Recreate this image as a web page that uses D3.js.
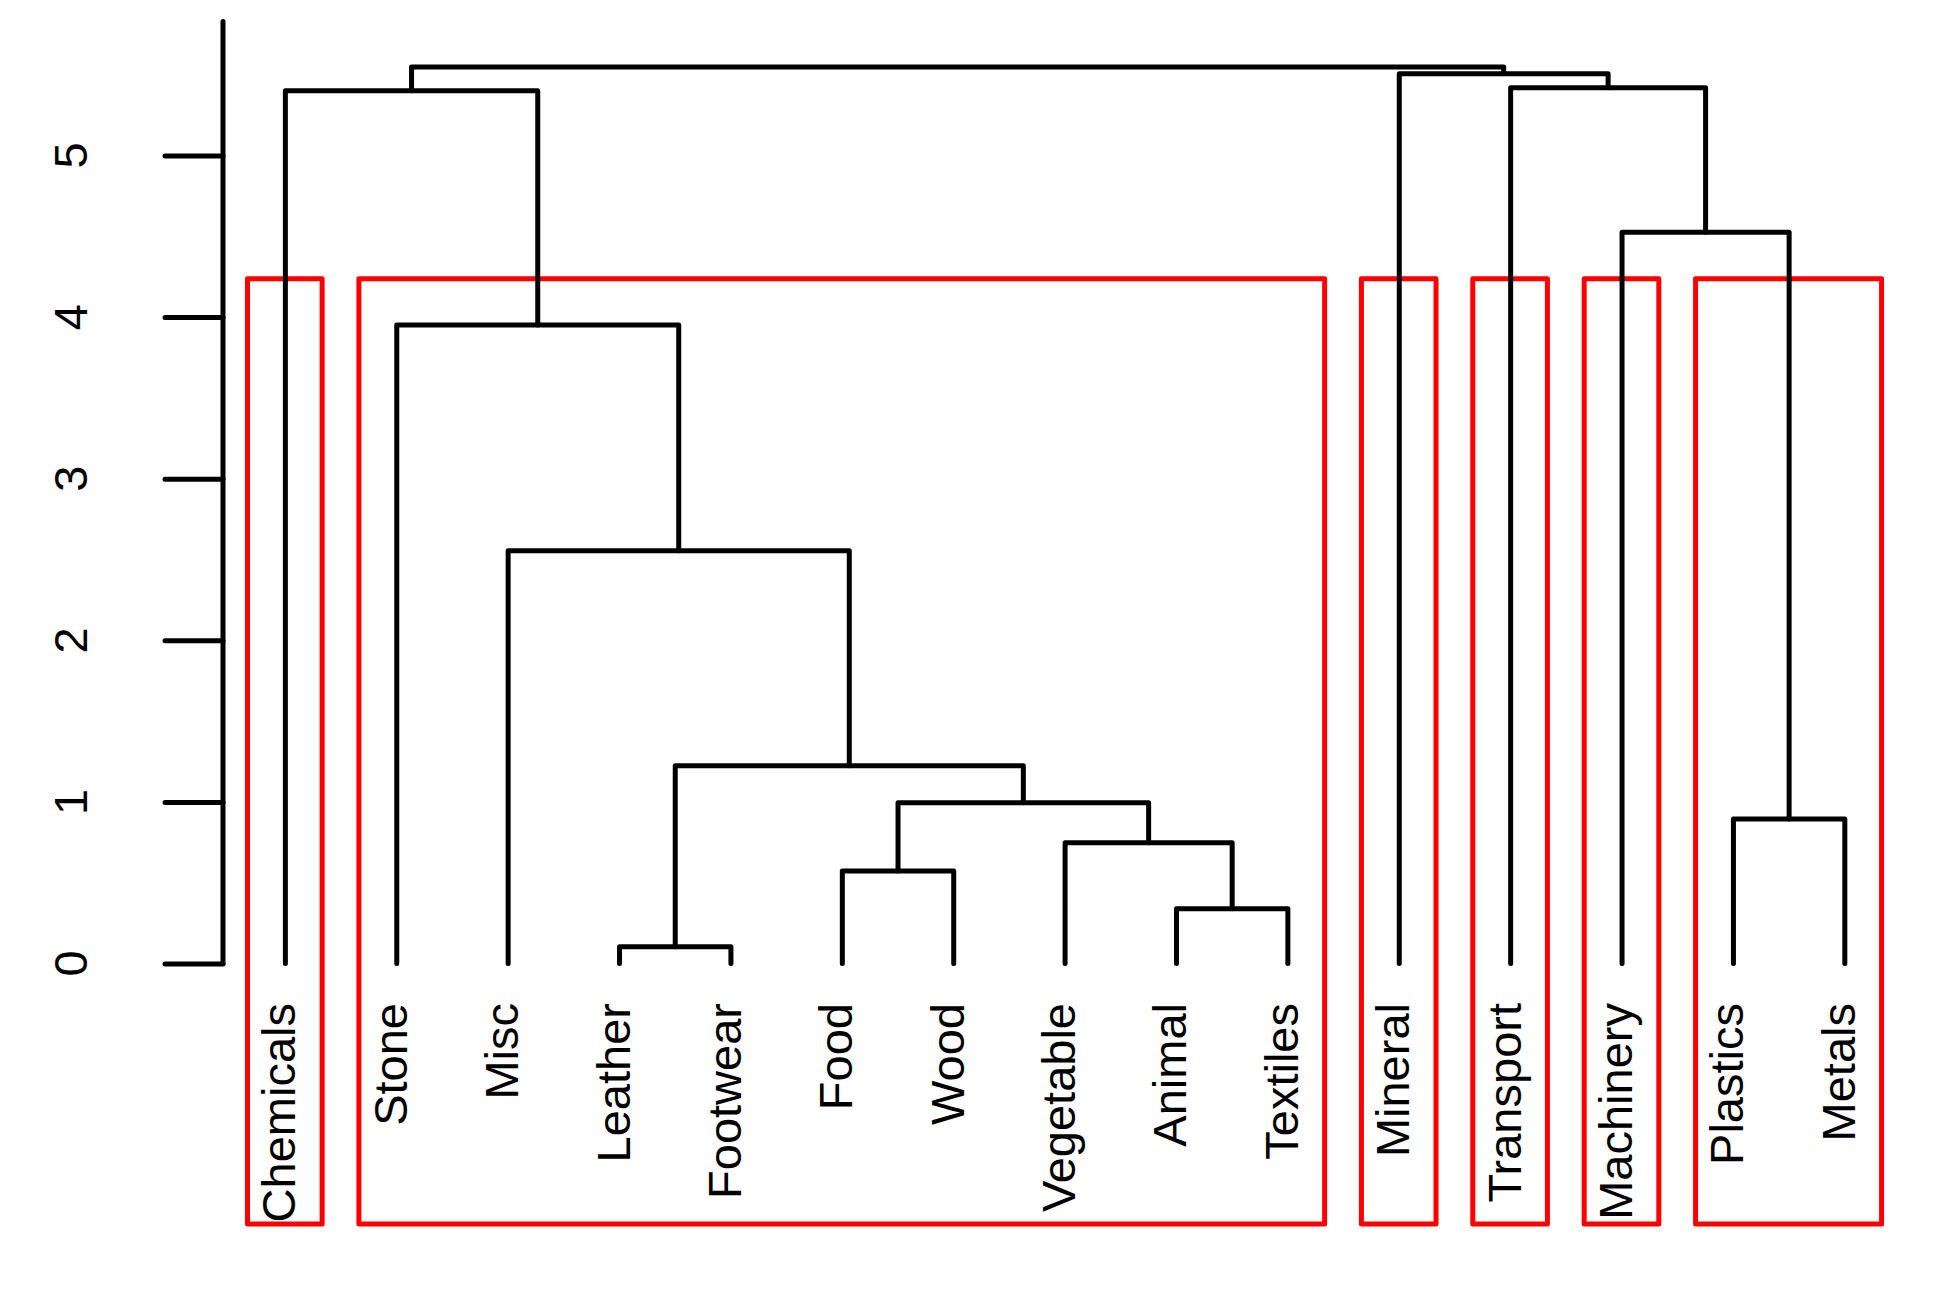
<!DOCTYPE html>
<html>
<head>
<meta charset="utf-8">
<script src="https://cdn.jsdelivr.net/npm/d3@7"></script>
<style>
  body { margin: 0; background: #fff; }
  text { font-family: "Liberation Sans", Arial, sans-serif; }
</style>
</head>
<body>
<div id="chart"></div>
<script>
/* global d3 */

// leaf labels, in dendrogram order
const labels = ['Chemicals', 'Stone', 'Misc', 'Leather', 'Footwear', 'Food', 'Wood',
  'Vegetable', 'Animal', 'Textiles', 'Mineral', 'Transport', 'Machinery', 'Plastics', 'Metals']

// merges, R style: negative = leaf (1-based), positive = earlier merge
const mergeLeft = [-4, -9, -6, -8, -14, 3, 1, -3, -2, -13, -1, -12, -11, 11]
const mergeRight = [-5, -10, -7, 2, -15, 4, 6, 7, 8, 5, 9, 10, 12, 13]
const mergeHeight = [0.104, 0.339, 0.572, 0.748, 0.894, 0.995, 1.224, 2.554, 3.951, 4.525, 5.401, 5.42, 5.506, 5.548]

const yTicks = [0, 1, 2, 3, 4, 5]
const nClusters = 6

// canvas
const width = 1951,
  height = 1291

const svg = d3.select('#chart')
  .append('svg')
  .attr('width', width)
  .attr('height', height)

const n = labels.length

const x = d3.scaleLinear()
  .domain([1 - 0.56, n + 0.56])
  .range([223, 1907.2])

const y = d3.scaleLinear()
  .domain([-1.612, 5.83])
  .range([1224, 21.4])

// node positions
const leafPos = (i) => ({ x: i, h: 0, lo: i, hi: i })
const nodes = []
const getNode = (id) => id < 0 ? leafPos(-id) : nodes[id - 1]
mergeLeft.forEach((l, i) => {
  const a = getNode(l), b = getNode(mergeRight[i])
  nodes.push({
    x: (a.x + b.x) / 2,
    h: mergeHeight[i],
    lo: Math.min(a.lo, b.lo),
    hi: Math.max(a.hi, b.hi),
    left: a,
    right: b
  })
})

// cluster boxes (like rect.hclust)
const desc = mergeHeight.slice().sort((a, b) => b - a)
const cut = (desc[nClusters - 2] + desc[nClusters - 1]) / 2
const boxes = []
const findClusters = (node) => {
  if (node.h > cut) {
    findClusters(node.left)
    findClusters(node.right)
  } else {
    boxes.push(node)
  }
}
findClusters(nodes[nodes.length - 1])

svg.selectAll('rect.box')
  .data(boxes)
  .enter()
  .append('rect')
  .attr('class', 'box')
  .attr('x', d => x(d.lo - 0.34))
  .attr('y', y(cut))
  .attr('width', d => x(d.hi + 0.33) - x(d.lo - 0.34))
  .attr('height', y(-1.612) - y(cut))
  .attr('fill', 'none')
  .attr('stroke', '#ff0000')
  .attr('stroke-width', 5)
  .attr('stroke-linejoin', 'round')

// dendrogram branches
svg.selectAll('path.branch')
  .data(nodes)
  .enter()
  .append('path')
  .attr('class', 'branch')
  .attr('d', d => {
    const p = d3.path()
    p.moveTo(x(d.left.x), y(d.left.h))
    p.lineTo(x(d.left.x), y(d.h))
    p.lineTo(x(d.right.x), y(d.h))
    p.lineTo(x(d.right.x), y(d.right.h))
    return p.toString()
  })
  .attr('fill', 'none')
  .attr('stroke', '#000')
  .attr('stroke-width', 5)
  .attr('stroke-linecap', 'round')
  .attr('stroke-linejoin', 'round')

// leaf labels
svg.selectAll('text.leaf')
  .data(labels)
  .enter()
  .append('text')
  .attr('class', 'leaf')
  .attr('transform', (d, i) => `translate(${x(i + 1)}, 1003) rotate(-90)`)
  .attr('dy', 10)
  .attr('text-anchor', 'end')
  .attr('font-size', 47)
  .text(d => d)

// y axis
const axis = svg.append('g')
  .attr('transform', `translate(${x.range()[0]}, 0)`)
  .call(d3.axisLeft(y).tickValues(yTicks).tickSize(58).tickFormat(''))

axis.select('.domain').remove()
axis.selectAll('.tick line')
  .attr('stroke', '#000')
  .attr('stroke-width', 5)
  .attr('stroke-linecap', 'round')

axis.append('line')
  .attr('y1', y(0))
  .attr('y2', y(5.83))
  .attr('stroke', '#000')
  .attr('stroke-width', 5)
  .attr('stroke-linecap', 'round')

svg.selectAll('text.ytick')
  .data(yTicks)
  .enter()
  .append('text')
  .attr('class', 'ytick')
  .attr('transform', d => `translate(87, ${y(d)}) rotate(-90)`)
  .attr('text-anchor', 'middle')
  .attr('font-size', 47)
  .text(d => d)
</script>
</body>
</html>
